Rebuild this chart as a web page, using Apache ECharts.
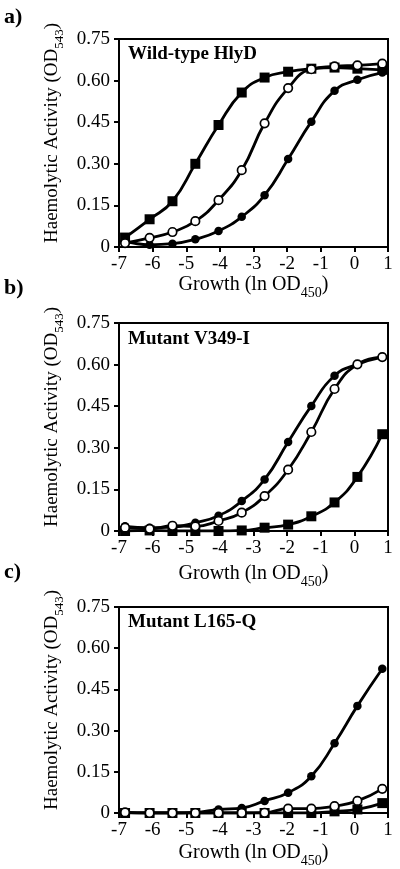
<!DOCTYPE html>
<html>
<head>
<meta charset="utf-8">
<script src="https://cdn.jsdelivr.net/npm/echarts@6/dist/echarts.min.js"></script>
<style>html,body{margin:0;padding:0;background:#fff;}#c{width:400px;height:869px;}</style>
</head>
<body>
<div id="c"></div>
<script>
// Growth values (ln OD450) of the sampled points
const growthX = [-6.82, -6.09, -5.41, -4.73, -4.04, -3.35, -2.67, -1.97, -1.28, -0.59, 0.09, 0.83];
const xTicks = [-7, -6, -5, -4, -3, -2, -1, 0, 1];
const yTicks = [0, 0.15, 0.30, 0.45, 0.60, 0.75];
const panelTitles = ['Wild-type HlyD', 'Mutant V349-I', 'Mutant L165-Q'];
const panelLetters = ['a)', 'b)', 'c)'];

// Panel a) Wild-type HlyD
const aSquare = [0.034, 0.100, 0.165, 0.300, 0.440, 0.557, 0.611, 0.632, 0.643, 0.647, 0.643, 0.639];
const aOpen   = [0.014, 0.033, 0.054, 0.093, 0.169, 0.277, 0.446, 0.573, 0.641, 0.651, 0.655, 0.661];
const aFilled = [0.022, 0.008, 0.012, 0.028, 0.058, 0.109, 0.187, 0.317, 0.452, 0.563, 0.603, 0.629];
// Panel b) Mutant V349-I
const bFilled = [0.017, 0.012, 0.014, 0.030, 0.055, 0.108, 0.186, 0.321, 0.451, 0.560, 0.601, 0.627];
const bOpen   = [0.012, 0.008, 0.019, 0.017, 0.036, 0.066, 0.126, 0.221, 0.357, 0.512, 0.601, 0.627];
const bSquare = [0.000, 0.002, 0.000, 0.000, 0.000, 0.002, 0.012, 0.023, 0.053, 0.103, 0.195, 0.349];
// Panel c) Mutant L165-Q
const cFilled = [0.002, 0.000, 0.000, 0.002, 0.013, 0.018, 0.044, 0.074, 0.134, 0.254, 0.390, 0.525];
const cOpen   = [0.002, 0.000, 0.000, 0.000, 0.000, 0.000, 0.001, 0.016, 0.016, 0.025, 0.044, 0.088];
const cSquare = [0.000, 0.000, 0.000, 0.000, 0.000, 0.000, 0.000, 0.000, 0.000, 0.006, 0.013, 0.036];

const panels = [
  {square: aSquare, open: aOpen, filled: aFilled},
  {square: bSquare, open: bOpen, filled: bFilled},
  {square: cSquare, open: cOpen, filled: cFilled}
];

const FONT = '"Liberation Serif", "Times New Roman", serif';
const gridTops = [39, 323, 607];
const gridH = 208;
const titleY = [45, 330, 613];
const letterY = [6, 277, 561];
const xNameGap = [23, 28, 25];

const chart = echarts.init(document.getElementById('c'), null, {renderer: 'canvas'});

const grids = [], xAxes = [], yAxes = [], series = [], graphics = [];
function pairs(arr) { return growthX.map((x, i) => [x, arr[i]]); }

panels.forEach((p, k) => {
  grids.push({left: 119, right: 12, top: gridTops[k], height: gridH, show: true,
    borderColor: '#000', borderWidth: 2, backgroundColor: 'transparent'});
  xAxes.push({type: 'value', gridIndex: k, min: -7, max: 1, interval: 1,
    name: '{m|Growth (ln OD}{s|450}{m|)}', nameLocation: 'middle', nameGap: xNameGap[k],
    nameTextStyle: {rich: {
      m: {fontFamily: FONT, fontSize: 20, color: '#000', lineHeight: 26, verticalAlign: 'middle'},
      s: {fontFamily: FONT, fontSize: 14, color: '#000', lineHeight: 30, verticalAlign: 'bottom'}
    }},
    axisLine: {show: true, onZero: false, lineStyle: {color: '#000', width: 2}},
    axisTick: {show: true, inside: false, length: 5, lineStyle: {color: '#000', width: 2}},
    axisLabel: {color: '#000', fontFamily: FONT, fontSize: 19, margin: 8,
      formatter: v => String(v)},
    splitLine: {show: false}});
  yAxes.push({type: 'value', gridIndex: k, min: 0, max: 0.75, interval: 0.15,
    name: '{m|Haemolytic Activity (OD}{s|543}{m|)}', nameLocation: 'middle', nameGap: 41,
    nameRotate: 90,
    nameTextStyle: {padding: [0, 0, 0, 20], rich: {
      m: {fontFamily: FONT, fontSize: 19, color: '#000', lineHeight: 24, verticalAlign: 'middle'},
      s: {fontFamily: FONT, fontSize: 13, color: '#000', lineHeight: 28, verticalAlign: 'bottom'}
    }},
    axisLine: {show: true, onZero: false, lineStyle: {color: '#000', width: 2}},
    axisTick: {show: true, inside: false, length: 5, lineStyle: {color: '#000', width: 2}},
    axisLabel: {color: '#000', fontFamily: FONT, fontSize: 19, margin: 9,
      formatter: v => (Math.abs(v) < 1e-9 ? '0' : v.toFixed(2))},
    splitLine: {show: false}});

  const base = {type: 'line', xAxisIndex: k, yAxisIndex: k, smooth: 0.5,
    lineStyle: {color: '#000', width: 2.8}, animation: false, z: 3};
  series.push(Object.assign({}, base, {name: 'square-' + k, data: pairs(p.square),
    symbol: 'rect', symbolSize: 10, itemStyle: {color: '#000', borderColor: '#000', borderWidth: 0}}));
  series.push(Object.assign({}, base, {name: 'filled-' + k, data: pairs(p.filled),
    symbol: 'circle', symbolSize: 8.5, itemStyle: {color: '#000', borderColor: '#000', borderWidth: 0}}));
  series.push(Object.assign({}, base, {name: 'open-' + k, data: pairs(p.open), z: 4,
    symbol: 'circle', symbolSize: 8.5, showAllSymbol: true,
    itemStyle: {color: '#fff', borderColor: '#000', borderWidth: 1.7}}));

  graphics.push({type: 'text', left: 128, top: titleY[k], z: 10,
    style: {text: panelTitles[k], font: 'bold 19px ' + FONT, fill: '#000'}});
  graphics.push({type: 'text', left: 4, top: letterY[k], z: 10,
    style: {text: panelLetters[k], font: 'bold 22px ' + FONT, fill: '#000'}});
});

chart.setOption({
  animation: false,
  backgroundColor: '#fff',
  grid: grids, xAxis: xAxes, yAxis: yAxes, series: series, graphic: graphics
});
</script>
</body>
</html>
